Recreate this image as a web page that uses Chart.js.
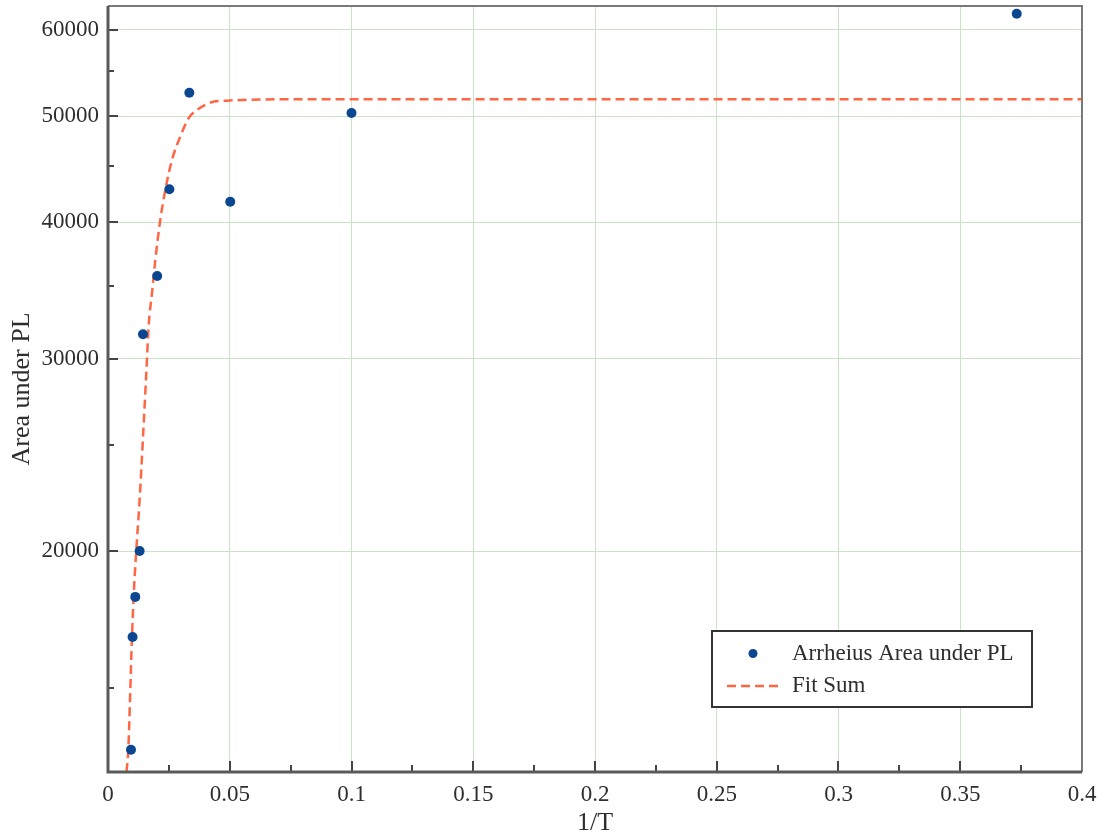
<!DOCTYPE html>
<html>
<head>
<meta charset="utf-8">
<script src="https://cdn.jsdelivr.net/npm/chart.js@4.4.1/dist/chart.umd.min.js"></script>
<style>
  html, body { margin: 0; padding: 0; background: #ffffff; }
  #wrap { width: 1097px; height: 836px; position: relative; }
</style>
</head>
<body>
<div id="wrap"><canvas id="c"></canvas></div>
<script>
// ---- data ----
const pointLabel = 'Arrheius Area under PL';
const pointX = [0.00944, 0.0101, 0.0112, 0.0130, 0.01437, 0.0202, 0.0252, 0.0334, 0.0502, 0.1000, 0.3732];
const pointY = [13165, 16695, 18165, 20010, 31600, 35720, 42890, 52560, 41770, 50360, 62070];

const fitLabel = 'Fit Sum';
const fitX = [0.0076, 0.0078, 0.00833, 0.00985, 0.01051, 0.01162, 0.01297, 0.01572, 0.01667, 0.01806, 0.01942, 0.02147, 0.02352, 0.02627, 0.02968, 0.03309, 0.03654, 0.04199, 0.04885, 0.0789, 0.4];
const fitY = [12560, 12690, 13165, 16695, 18165, 20040, 22270, 29090, 32100, 34460, 36940, 40190, 42810, 45620, 47910, 49810, 50680, 51470, 51690, 51840, 51850];

const xTickValues = [0, 0.025, 0.05, 0.075, 0.1, 0.125, 0.15, 0.175, 0.2, 0.225, 0.25, 0.275, 0.3, 0.325, 0.35, 0.375, 0.4];
const xTickLabels = ['0', '', '0.05', '', '0.1', '', '0.15', '', '0.2', '', '0.25', '', '0.3', '', '0.35', '', '0.4'];
const yTickValues = [15000, 20000, 25000, 30000, 35000, 40000, 45000, 50000, 55000, 60000];
const yTickLabels = ['', '20000', '', '30000', '', '40000', '', '50000', '', '60000'];

const xTitle = '1/T';
const yTitle = 'Area under PL';

// ---- styling ----
const FONT = "'Liberation Serif', 'Times New Roman', serif";
const GRID = '#c9e3c5';
const TEXT = '#2e2e2e';
const DOT = '#0a4790';
const FIT = '#ff6644';

const pts = pointX.map((x, i) => ({ x: x, y: pointY[i] }));
const fit = fitX.map((x, i) => ({ x: x, y: fitY[i] }));

function labelFor(values, labels, v) {
  for (let i = 0; i < values.length; i++) {
    if (Math.abs(values[i] - v) < 1e-9 * Math.max(1, Math.abs(v))) return labels[i];
  }
  return '';
}

const framePlugin = {
  id: 'frame',
  afterDraw(chart) {
    const ctx = chart.ctx;
    const a = chart.chartArea;
    const xs = chart.scales.x, ys = chart.scales.y;
    ctx.save();
    // inner ticks
    ctx.strokeStyle = '#444';
    ctx.lineWidth = 2;
    xs.ticks.forEach(t => {
      const px = Math.round(xs.getPixelForValue(t.value));
      const major = labelFor(xTickValues, xTickLabels, t.value) !== '';
      const len = major ? 11 : 7;
      ctx.beginPath();
      ctx.moveTo(px, a.bottom);
      ctx.lineTo(px, a.bottom - len);
      ctx.stroke();
    });
    ys.ticks.forEach(t => {
      const py = Math.round(ys.getPixelForValue(t.value));
      const major = labelFor(yTickValues, yTickLabels, t.value) !== '';
      const len = major ? 10 : 6;
      ctx.beginPath();
      ctx.moveTo(a.left, py);
      ctx.lineTo(a.left + len, py);
      ctx.stroke();
    });
    // frame
    ctx.strokeStyle = '#7a7a7a';
    ctx.lineWidth = 2;
    ctx.beginPath();
    ctx.moveTo(a.left, a.top);
    ctx.lineTo(a.right, a.top);
    ctx.lineTo(a.right, a.bottom);
    ctx.stroke();
    ctx.strokeStyle = '#5a5a5a';
    ctx.lineWidth = 3;
    ctx.beginPath();
    ctx.moveTo(a.left, a.top);
    ctx.lineTo(a.left, a.bottom);
    ctx.lineTo(a.right, a.bottom);
    ctx.stroke();

    // legend box
    const ds = chart.data.datasets;
    const bx = 712, by = 631, bw = 320, bh = 76;
    ctx.fillStyle = '#ffffff';
    ctx.fillRect(bx, by, bw, bh);
    ctx.strokeStyle = '#333';
    ctx.lineWidth = 2;
    ctx.strokeRect(bx, by, bw, bh);
    // row 1: dot
    ctx.fillStyle = ds[0].backgroundColor;
    ctx.beginPath();
    ctx.arc(753, 653.5, 4.5, 0, Math.PI * 2);
    ctx.fill();
    // row 2: dashed line
    ctx.strokeStyle = ds[1].borderColor;
    ctx.lineWidth = 2.5;
    ctx.setLineDash(ds[1].borderDash);
    ctx.beginPath();
    ctx.moveTo(727, 686);
    ctx.lineTo(779, 686);
    ctx.stroke();
    ctx.setLineDash([]);
    ctx.fillStyle = TEXT;
    ctx.font = '23px ' + FONT;
    ctx.textBaseline = 'middle';
    ctx.textAlign = 'left';
    ctx.fillText(ds[0].label, 792, 654);
    ctx.fillText(ds[1].label, 792, 686);
    ctx.restore();
  }
};

new Chart(document.getElementById('c'), {
  type: 'scatter',
  data: {
    datasets: [
      {
        label: pointLabel,
        data: pts,
        backgroundColor: DOT,
        borderColor: DOT,
        pointRadius: 5,
        pointBorderWidth: 0,
        showLine: false
      },
      {
        label: fitLabel,
        data: fit,
        showLine: true,
        borderColor: FIT,
        backgroundColor: FIT,
        borderWidth: 2.5,
        borderDash: [9, 5],
        pointRadius: 0,
        cubicInterpolationMode: 'monotone',
        fill: false
      }
    ]
  },
  options: {
    responsive: true,
    maintainAspectRatio: false,
    animation: false,
    layout: { padding: { top: 6, right: 15, left: 0, bottom: 0 } },
    plugins: {
      legend: { display: false },
      tooltip: { enabled: false }
    },
    scales: {
      x: {
        type: 'linear',
        min: 0,
        max: 0.4,
        border: { display: false },
        afterBuildTicks(scale) {
          scale.ticks = xTickValues.map(v => ({ value: v }));
        },
        afterFit(scale) {
          scale.height = 64;
          scale.paddingLeft = 0;
          scale.paddingRight = 0;
        },
        grid: {
          drawTicks: false,
          lineWidth: 1,
          color: c => (c.tick && labelFor(xTickValues, xTickLabels, c.tick.value) !== '' ? GRID : 'rgba(0,0,0,0)')
        },
        ticks: {
          autoSkip: false,
          maxRotation: 0,
          padding: 9,
          color: TEXT,
          font: { family: FONT, size: 23 },
          callback: (v) => labelFor(xTickValues, xTickLabels, v)
        },
        title: {
          display: true,
          text: xTitle,
          color: TEXT,
          font: { family: FONT, size: 26, lineHeight: 1 },
          padding: { top: 0, bottom: 0 }
        }
      },
      y: {
        type: 'logarithmic',
        min: 12560,
        max: 63100,
        border: { display: false },
        afterBuildTicks(scale) {
          scale.ticks = yTickValues.map(v => ({ value: v }));
        },
        afterFit(scale) {
          scale.width = 108;
          scale.paddingTop = 0;
          scale.paddingBottom = 0;
        },
        grid: {
          drawTicks: false,
          lineWidth: 1,
          color: c => (c.tick && labelFor(yTickValues, yTickLabels, c.tick.value) !== '' ? GRID : 'rgba(0,0,0,0)')
        },
        ticks: {
          autoSkip: false,
          padding: 9,
          color: TEXT,
          font: { family: FONT, size: 23 },
          callback: (v) => labelFor(yTickValues, yTickLabels, v)
        },
        title: {
          display: true,
          text: yTitle,
          color: TEXT,
          font: { family: FONT, size: 26, lineHeight: 1 },
          padding: { top: 9, bottom: 0 }
        }
      }
    }
  },
  plugins: [framePlugin]
});
</script>
</body>
</html>
